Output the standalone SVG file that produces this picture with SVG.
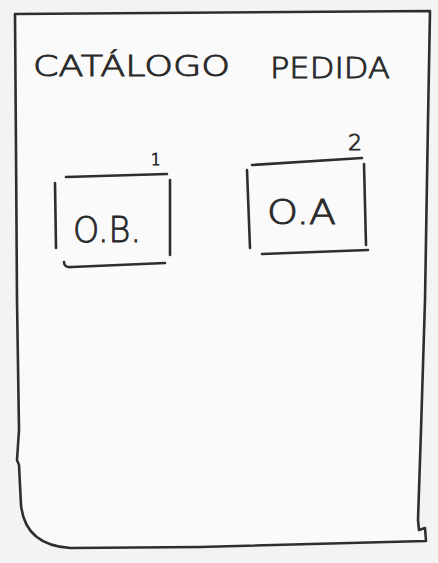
<svg xmlns="http://www.w3.org/2000/svg" width="438" height="563" viewBox="0 0 438 563">
<style>
.ink{fill:none;stroke:#2e2e2e;stroke-width:2.6;stroke-linecap:round;stroke-linejoin:round}
.txt{font-family:"DejaVu Sans","Liberation Sans",sans-serif;fill:#2a2a2a;stroke:#2a2a2a;stroke-width:0.9;font-weight:300}
</style>
<rect width="438" height="563" fill="#f3f3f3"/>
<g id="frame">
<path class="ink" style="fill:#fafafa" d="M15,14 L430,11 L428,120 L425,300 L421,430 L418,520 L419,530 L425,528 L426,541 L200,547 L70,548 Q25,545 21,505 L19,465 L17,460 L19,430 L17,300 L16,150 Z"/>
</g>
<g id="title">
<text class="txt" x="33" y="76" font-size="29" textLength="197" lengthAdjust="spacingAndGlyphs">CATÁLOGO</text>
<text class="txt" x="270" y="78" font-size="28" textLength="120" lengthAdjust="spacingAndGlyphs">PEDIDA</text>
</g>
<g id="node-ob">
<path class="ink" d="M66,177 L167,174"/>
<path class="ink" d="M55,183 L56,248"/>
<path class="ink" d="M170,180 L170,255"/>
<path class="ink" d="M64,262 Q64,268 72,267 L165,263"/>
<text class="txt" x="151" y="165" font-size="15">1</text>
<text class="txt" x="73" y="242" font-size="36" textLength="68" lengthAdjust="spacingAndGlyphs">O.B.</text>
</g>
<g id="node-oa">
<path class="ink" d="M252,165 L362,158"/>
<path class="ink" d="M247,170 L250,248"/>
<path class="ink" d="M364,164 L366,245"/>
<path class="ink" d="M262,254 L368,250"/>
<text class="txt" x="348" y="150" font-size="22">2</text>
<text class="txt" x="267" y="224" font-size="34" textLength="69" lengthAdjust="spacingAndGlyphs">O.A</text>
</g>
</svg>
